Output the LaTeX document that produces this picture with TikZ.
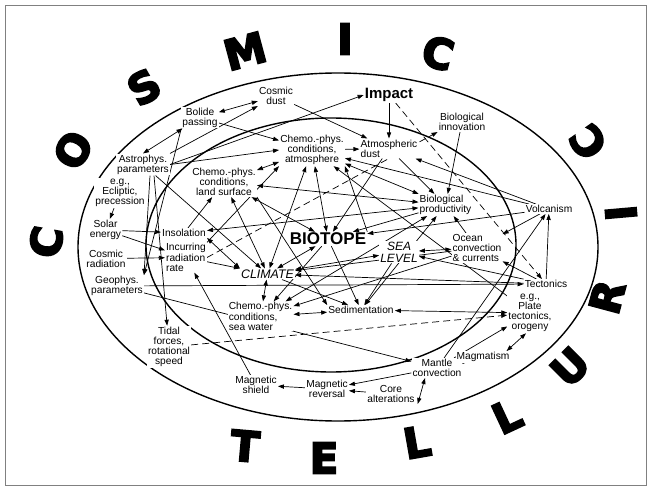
\documentclass[tikz,border=0pt]{standalone}
\usepackage{fontspec}
\setmainfont{Liberation Sans}
\newfontfamily\ringfont{DejaVu Sans}[BoldFeatures={FakeBold=4.5}]
\usetikzlibrary{arrows.meta, backgrounds}

\begin{document}
\begin{tikzpicture}[x=1pt, y=-1pt,
    lbl/.style={font=\fontsize{10.2}{10.2}\selectfont, align=center, inner sep=1pt, fill=white},
    lbll/.style={lbl, align=left},
    big/.style={font=\ringfont\bfseries\fontsize{42}{42}\selectfont, inner sep=0pt},
    arr/.style={-{Triangle[length=6pt,width=4.2pt]}, line width=0.7pt},
    dbl/.style={{Triangle[length=6pt,width=4.2pt]}-{Triangle[length=6pt,width=4.2pt]}, line width=0.7pt},
    dsh/.style={arr, dash pattern=on 7pt off 4pt}]
    \useasboundingbox (0,0) rectangle (652,486);
    \draw[gray, line width=0.8pt] (5,5) rectangle (646,485);

    \foreach \ch/\px/\py/\ang in {C/46/242/80, O/73/150/60, S/144/87/30, M/245/51/15,
        I/345/39/0, C/438/53/-15, T/245/446/-5, E/324/458/0, L/417/442/10,
        L/507/416/25, U/570/367/45, R/607/297/75, I/621/213/95, C/588/142/125}
      \node[big, rotate=\ang] (ltr-\px) at (\px,\py) {\ch};

    \node[lbl] (cdust) at (276,96) {Cosmic\\dust};
    \node[lbl] (bolide) at (200,117.5) {Bolide\\passing};
    \node[lbl, font=\bfseries\fontsize{15}{15}\selectfont] (impact) at (389,95) {Impact};
    \node[lbl] (bioinno) at (462,122) {Biological\\innovation};
    \node[lbl] (astro) at (143,164.5) {Astrophys.\\parameters};
    \node[lbl] (atmo) at (312,150) {Chemo.-phys.\\conditions,\\atmosphere};
    \node[lbll] (adust) at (389,148.5) {Atmospheric\\dust};
    \node[lbl] (land) at (224,182) {Chemo.-phys.\\conditions,\\land surface};
    \node[lbl] (eg) at (120,193) {e.g.,\\Ecliptic,\\precession};
    \node[lbl] (solar) at (105.5,230) {Solar\\energy};
    \node[lbl] (cosrad) at (106,258.5) {Cosmic\\radiation};
    \node[lbl] (geo) at (117,286) {Geophys.\\parameters};
    \node[lbl] (insol) at (184,233) {Insolation};
    \node[lbll] (incur) at (186,257.5) {Incurring\\radiation\\rate};
    \node[lbl, font=\bfseries\fontsize{17}{17}\selectfont] (biotope) at (328,239) {BIOTOPE};
    \node[lbl, font=\itshape\fontsize{12}{12}\selectfont] (sea) at (399,252) {SEA\\LEVEL};
    \node[lbl, font=\itshape\fontsize{12.4}{12.4}\selectfont] (climate) at (267.5,274) {CLIMATE};
    \node[lbll] (bioprod) at (445.5,205) {Biological\\productivity};
    \node[lbl] (volc) at (549,209) {Volcanism};
    \node[lbll] (ocean) at (477,248) {Ocean\\convection\\\& currents};
    \node[lbl] (tect) at (546,284) {Tectonics};
    \node[lbl] (plate) at (530,313) {e.g.,\\Plate\\tectonics,\\orogeny};
    \node[lbll] (water) at (260.5,316.5) {Chemo.-phys.\\conditions,\\sea water};
    \node[lbl] (sedi) at (361,310) {Sedimentation};
    \node[lbl] (tidal) at (169,347) {Tidal\\forces,\\rotational\\speed};
    \node[lbl] (mshield) at (256,385) {Magnetic\\shield};
    \node[lbl] (mrev) at (327,389) {Magnetic\\reversal};
    \node[lbl] (core) at (391,394) {Core\\alterations};
    \node[lbl] (mantle) at (437,368) {Mantle\\convection};
    \node[lbl] (magma) at (483,357) {Magmatism};

    \begin{scope}[on background layer]
    \draw[line width=1.4pt] (338,247) ellipse [x radius=260, y radius=174];
    \draw[line width=1.4pt] (331,245) ellipse [x radius=185, y radius=127];

    \draw[dbl] (bolide) -- (cdust);
    \draw[dbl] (astro.north) -- (bolide);
    \draw[arr] (astro.north east) -- (cdust.south west);
    \draw[arr] (astro.east) -- (impact.west);
    \draw[arr] (astro.east) -- (atmo.west);
    \draw[arr] (bolide) -- (atmo);
    \draw[arr] (cdust) -- (adust);
    \draw[arr] (impact) -- (adust);
    \draw[dsh] (impact) -- (tect);
    \draw[arr] (bioinno) -- (bioprod);
    \draw[dsh] (incur.east) -- (bioinno.south west);
    \draw[arr] (adust) -- (bioprod);
    \draw[arr] (atmo) -- (adust);
    \draw[dbl] (land) -- (atmo);
    \draw[dbl] (atmo) -- (bioprod);
    \draw[dbl] (atmo) -- (biotope);
    \draw[arr] (biotope.north east) -- (atmo.south east);
    \draw[dbl] (land) -- (bioprod);
    \draw[dbl] (insol) -- (bioprod);
    \draw[arr] (insol) -- (land);
    \draw[dbl] (insol.south east) -- (climate.north west);
    \draw[arr] (incur) -- (climate);
    \draw[arr] (astro) -- (climate);
    \draw[dbl] (land) -- (climate);
    \draw[dbl] (atmo) -- (climate);
    \draw[arr] (incur.north east) -- (atmo.south west);
    \draw[dbl] (land) -- (biotope);
    \draw[arr] (land.south east) -- (sedi.north west);
    \draw[arr] (adust) -- (biotope);
    \draw[dbl] (climate) -- (biotope);
    \draw[dbl] (climate) -- (water);
    \draw[dbl] (climate) -- (sea);
    \draw[arr] (ocean) -- (climate);
    \draw[arr] (tect) -- (climate);
    \draw[arr] (climate) -- (sedi);
    \draw[arr] (biotope) -- (sedi);
    \draw[arr] (sea) -- (sedi);
    \draw[dbl] (bioprod) -- (sedi);
    \draw[dbl] (water) -- (sedi);
    \draw[dbl] (sedi) -- (plate);
    \draw[dsh] (tidal) -- (plate);
    \draw[arr] (biotope) -- (water);
    \draw[arr] (ocean) -- (water);
    \draw[dbl] (water) -- (bioprod);
    \draw[arr] (bioprod) -- (biotope);
    \draw[arr] (geo) -- (tect);
    \draw[arr] (geo) -- (mantle);
    \draw[arr] ([xshift=7pt]astro.south) -- (geo.north east);
    \draw[arr] (bolide.south west) -- (geo.north east);
    \draw[arr] ([xshift=11pt]astro.south) -- (tidal);
    \draw[arr] (eg) -- (solar);
    \draw[arr] (solar) -- (insol);
    \draw[arr] (solar) -- (incur);
    \draw[arr] (cosrad) -- (incur);
    \draw[arr] (mshield) -- (incur);
    \draw[arr] (mrev) -- (mshield);
    \draw[arr] (mantle) -- (mrev);
    \draw[arr] (core) -- (mrev);
    \draw[dbl] ([xshift=2pt]core.south east) -- ([xshift=-12pt]mantle.south);
    \draw[arr] (mantle) -- (magma);
    \draw[dbl] ([xshift=-4pt]magma.north east) -- ([xshift=-4pt]plate.south);
    \draw[arr] (mantle) -- (plate);
    \draw[arr] (mantle) -- (volc);
    \draw[arr] (volc) -- (adust);
    \draw[arr] (volc) -- (atmo);
    \draw[arr] (volc) -- (biotope);
    \draw[arr] (volc) -- (ocean);
    \draw[arr] (tect) -- (volc);
    \draw[arr] (tect) -- (ocean);
    \draw[arr] (tect) -- (sea);
    \draw[dbl] (ocean) -- (sea);
    \draw[arr] (ocean) -- (bioprod);
    \draw[arr] (plate) -- (atmo);
    \end{scope}
\end{tikzpicture}
\end{document}
